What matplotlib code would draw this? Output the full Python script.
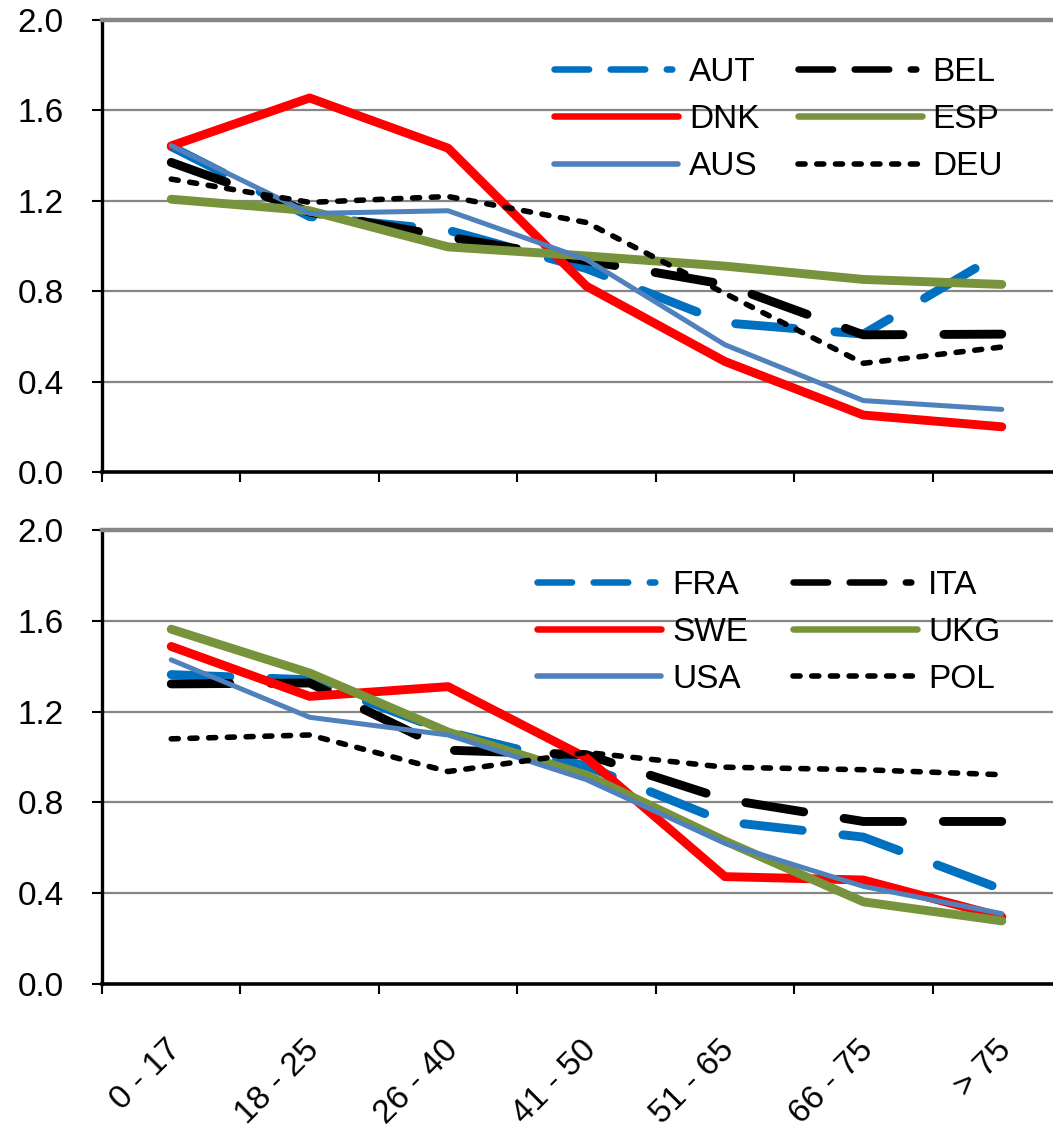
import matplotlib
matplotlib.use('Agg')
import matplotlib.pyplot as plt
from matplotlib.lines import Line2D
from matplotlib.ticker import FixedLocator, FormatStrFormatter
import matplotlib.transforms as mtrans
import numpy as np

plt.rcParams['font.family'] = ['Liberation Sans', 'DejaVu Sans']

categories = ['0 - 17', '18 - 25', '26 - 40', '41 - 50', '51 - 65', '66 - 75', '> 75']

# top panel
aut = [1.44, 1.13, 1.07, 0.90, 0.66, 0.61, 0.97]
bel = [1.37, 1.15, 1.04, 0.935, 0.83, 0.607, 0.61]
dnk = [1.443, 1.655, 1.433, 0.822, 0.489, 0.252, 0.20]
esp = [1.207, 1.156, 0.996, 0.956, 0.911, 0.852, 0.83]
aus = [1.444, 1.144, 1.156, 0.94, 0.563, 0.316, 0.277]
deu = [1.296, 1.193, 1.219, 1.104, 0.79, 0.481, 0.553]

# bottom panel
fra = [1.363, 1.34, 1.11, 0.96, 0.715, 0.647, 0.417]
ita = [1.322, 1.326, 1.03, 1.01, 0.814, 0.716, 0.716]
swe = [1.487, 1.267, 1.31, 0.996, 0.473, 0.458, 0.296]
ukg = [1.563, 1.37, 1.11, 0.92, 0.63, 0.362, 0.278]
usa = [1.428, 1.175, 1.097, 0.90, 0.62, 0.43, 0.31]
pol = [1.08, 1.097, 0.936, 1.02, 0.955, 0.944, 0.922]

yticks = [0.0, 0.4, 0.8, 1.2, 1.6, 2.0]

BLUE = '#0070C0'
RED = '#FF0000'
GREEN = '#77933C'
STEEL = '#4F81BD'
BLACK = '#000000'
GRID = '#868686'

THICK = 6.4
THIN = 3.6
DOTW = 4.0
LONGDASH = (0, (6.6, 4.6))
SHORTDASH = (0, (1.27, 2.1))

styles = {
    'longdash_blue': (BLUE, THICK, LONGDASH, 'ldd'),
    'longdash_black': (BLACK, THICK, LONGDASH, 'ldd'),
    'red': (RED, THICK, '-', 'solid'),
    'green': (GREEN, THICK, '-', 'solid'),
    'steel': (STEEL, THIN, '-', 'thin'),
    'dot': (BLACK, DOTW, SHORTDASH, 'dot'),
}

top_series = [('AUT', aut, 'longdash_blue'), ('BEL', bel, 'longdash_black'),
              ('DNK', dnk, 'red'), ('ESP', esp, 'green'),
              ('AUS', aus, 'steel'), ('DEU', deu, 'dot')]
bot_series = [('FRA', fra, 'longdash_blue'), ('ITA', ita, 'longdash_black'),
              ('SWE', swe, 'red'), ('UKG', ukg, 'green'),
              ('USA', usa, 'steel'), ('POL', pol, 'dot')]

W, H = 1053, 1130
fig = plt.figure(figsize=(W / 100, H / 100), dpi=100)

left = 102 / W
width = (1071 - 102) / W
ax1 = fig.add_axes([left, 1 - 472 / H, width, (472 - 20) / H])
ax2 = fig.add_axes([left, 1 - 984 / H, width, (984 - 530) / H])

x = np.arange(len(categories))
FS = 24


def legend_handle(key):
    color, lw, ls, kind = styles[key]
    if kind == 'ldd':
        return Line2D([], [], color=color, lw=4.7,
                      linestyle=(0, (5.3, 3.3, 5.3, 3.3, 0.85, 10)),
                      dash_capstyle='round')
    if kind == 'solid':
        return Line2D([], [], color=color, lw=4.7, solid_capstyle='round')
    if kind == 'thin':
        return Line2D([], [], color=color, lw=4.0, solid_capstyle='round')
    return Line2D([], [], color=color, lw=4.0, linestyle=SHORTDASH,
                  dash_capstyle='round')


def draw(ax, series, leg_anchor, colspacing):
    for name, vals, key in series:
        color, lw, ls, kind = styles[key]
        ax.plot(x, vals, color=color, lw=lw, linestyle=ls,
                dash_capstyle='round', solid_capstyle='round',
                solid_joinstyle='round', dash_joinstyle='round')
    ax.set_ylim(0, 2.0)
    ax.set_xlim(-0.5, 6.5)
    ax.set_yticks(yticks)
    ax.yaxis.set_major_formatter(FormatStrFormatter('%.1f'))
    ax.tick_params(axis='y', direction='out', length=7.2, width=1.5,
                   pad=20.5, labelsize=FS, colors='black')
    ax.set_xticks(x)
    ax.xaxis.set_minor_locator(FixedLocator(np.arange(-0.5, 7.0, 1.0)))
    ax.tick_params(axis='x', which='major', length=0)
    ax.tick_params(axis='x', which='minor', direction='out', length=7.2,
                   width=1.5, colors='black')
    for g in [0.4, 0.8, 1.2, 1.6]:
        ax.axhline(g, color=GRID, lw=1.6, zorder=0.5)
    ax.spines['right'].set_visible(False)
    ax.spines['top'].set_color(GRID)
    ax.spines['top'].set_linewidth(3.2)
    ax.spines['left'].set_color('black')
    ax.spines['left'].set_linewidth(2.4)
    ax.spines['bottom'].set_color('black')
    ax.spines['bottom'].set_linewidth(2.6)

    order = [0, 2, 4, 1, 3, 5]
    handles = [legend_handle(series[i][2]) for i in order]
    labels = [series[i][0] for i in order]
    fig.legend(handles, labels, ncol=2, loc='upper left',
               bbox_to_anchor=leg_anchor, bbox_transform=fig.transFigure,
               frameon=False, fontsize=FS, borderpad=0, borderaxespad=0,
               handlelength=3.72, handletextpad=0.33,
               columnspacing=colspacing, labelspacing=0.485)


draw(ax1, top_series, (554 / W, 1 - 57 / H), 1.14)
draw(ax2, bot_series, (537 / W, 1 - 569.5 / H), 1.35)

ax1.set_xticklabels([''] * len(categories))
ax2.set_xticklabels(categories, rotation=45, ha='right', va='center',
                    rotation_mode='anchor', fontsize=FS)
ax2.tick_params(axis='x', which='major', pad=44)
offset = mtrans.ScaledTranslation(5 / 100, 0, fig.dpi_scale_trans)
for lab in ax2.get_xticklabels():
    lab.set_transform(lab.get_transform() + offset)

fig.savefig('out.png', dpi=100)
